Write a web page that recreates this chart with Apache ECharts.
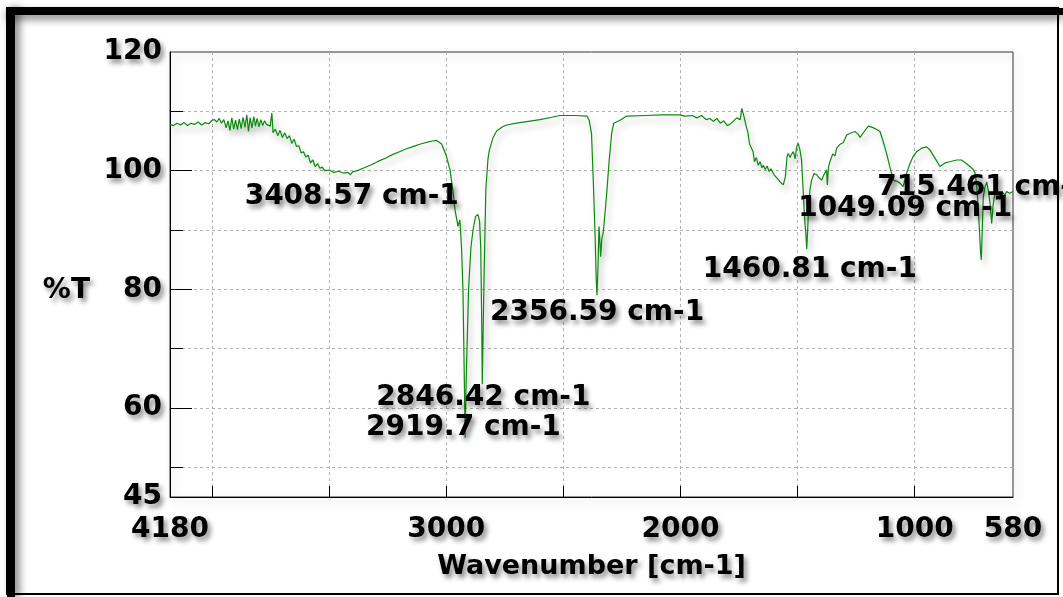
<!DOCTYPE html>
<html>
<head>
<meta charset="utf-8">
<title>IR spectrum</title>
<script src="https://cdn.jsdelivr.net/npm/echarts@6/dist/echarts.min.js"></script>
<style>
	html, body { margin: 0; padding: 0; background: #fff; }
	#chart1 { width: 1063px; height: 597px; }
</style>
</head>
<body>
<div id="chart1"></div>
<script>
//波数 (cm-1) 与透过率 %T
var wavenumber = [
	4180, 4165, 4150, 4135, 4120, 4105, 4090, 4075, 4060, 4045, 4030, 4015, 4000,
	3990, 3980, 3970, 3960, 3950, 3940, 3932, 3924, 3916, 3908, 3900, 3892, 3884, 3876, 3868, 3860,
	3852, 3845, 3838, 3830, 3822, 3815, 3808, 3800, 3792, 3784, 3776, 3768, 3760, 3752, 3745, 3740,
	3730, 3720, 3710, 3700, 3690, 3680, 3670, 3660, 3650, 3640, 3630, 3620, 3610, 3600, 3590, 3580,
	3570, 3560, 3550, 3540, 3530, 3520, 3500, 3480, 3460, 3440, 3420, 3410, 3400, 3380, 3350, 3320,
	3290, 3260, 3230, 3200, 3170, 3140, 3110, 3080, 3060, 3041, 3020, 3000, 2984, 2970, 2963, 2950,
	2942, 2935, 2929, 2922, 2919.7, 2915, 2905, 2895, 2886, 2875, 2865, 2858, 2853, 2849, 2846.42,
	2843, 2839, 2831, 2822, 2816, 2800, 2785, 2760, 2742, 2700, 2650, 2600, 2550, 2515, 2450, 2400,
	2390, 2380, 2372, 2365, 2360, 2356.59, 2352, 2348, 2344, 2341, 2336, 2330, 2322, 2315, 2305, 2294,
	2285, 2280, 2258, 2230, 2150, 2080, 2002, 1980, 1950, 1930, 1910, 1890, 1874, 1860, 1845, 1830,
	1815, 1800, 1789, 1775, 1760, 1745, 1738, 1734, 1728, 1720, 1712, 1705, 1698, 1690, 1684, 1676,
	1668, 1660, 1652, 1646, 1638, 1630, 1622, 1614, 1600, 1585, 1572, 1561, 1552, 1545, 1540, 1532,
	1525, 1518, 1510, 1504, 1497, 1490, 1483, 1476, 1470, 1464, 1460.81, 1457, 1452, 1447, 1440, 1430,
	1418, 1408, 1397, 1388, 1376, 1373, 1368, 1362, 1350, 1340, 1333, 1320, 1305, 1290, 1275, 1255,
	1243, 1233, 1215, 1198, 1180, 1160, 1148, 1135, 1120, 1105, 1091, 1075, 1063, 1049.09, 1035, 1020,
	1005, 991, 970, 949, 935, 927, 910, 892, 870, 850, 821, 800, 782, 764, 750, 742,
	735, 728, 722, 718, 715.461, 712, 707, 700, 692, 685, 678, 671, 665, 657, 648, 636,
	625, 615, 607, 595, 580
];

var transmittance = [
	107.8, 107.6, 108.0, 107.7, 108.1, 107.6, 108.0, 107.8, 108.2, 107.7, 108.1, 107.9, 108.5,
	108.6, 108.2, 108.8, 108.0, 108.6, 107.2, 108.4, 106.8, 108.9, 107.0, 108.5, 106.9, 108.7, 107.1, 109.0, 107.3,
	109.4, 106.6, 108.9, 107.2, 109.1, 107.5, 108.8, 107.4, 108.6, 107.6, 108.4, 107.8, 108.1, 107.5, 109.7, 106.4,
	107.0, 105.9, 106.8, 105.6, 106.4, 105.4, 105.9, 104.6, 105.3, 104.1, 104.2, 103.0, 103.2, 102.3, 102.6, 101.3,
	101.8, 100.7, 101.2, 100.4, 100.6, 100.0, 100.1, 99.7, 99.9, 99.6, 99.7, 99.3, 99.8, 100.0, 100.5, 101.0,
	101.6, 102.1, 102.7, 103.2, 103.7, 104.1, 104.5, 104.8, 105.0, 105.1, 104.5, 102.5, 100.1, 96.0, 93.4, 90.6,
	91.7, 87.0, 80.0, 62.0, 55.0, 65.0, 80.0, 87.0, 90.0, 92.3, 92.6, 91.5, 87.0, 75.0, 64.0,
	72.0, 82.0, 97.0, 102.0, 103.5, 105.6, 106.7, 107.4, 107.7, 108.0, 108.3, 108.6, 109.0, 109.3, 109.3, 109.2,
	108.5, 106.3, 97.9, 89.5, 82.0, 79.0, 84.0, 90.6, 88.0, 85.5, 88.5, 89.5, 93.0, 96.2, 101.5, 106.3,
	108.0, 108.3, 108.5, 109.2, 109.3, 109.4, 109.4, 109.2, 109.3, 108.9, 109.3, 108.6, 108.8, 108.3, 108.8, 108.0,
	108.4, 107.6, 107.8, 108.3, 108.9, 108.6, 110.5, 110.3, 109.0, 107.6, 106.4, 104.5, 104.8, 103.2, 101.5, 102.2,
	100.9, 101.5, 100.5, 100.9, 100.2, 100.8, 99.9, 100.3, 99.3, 98.6, 98.0, 97.6, 99.0, 102.4, 102.9, 102.2,
	102.8, 103.2, 102.0, 104.0, 104.6, 103.5, 101.8, 96.5, 92.0, 89.0, 86.8, 90.0, 94.5, 96.8, 98.4, 99.5,
	99.3, 98.8, 98.4, 99.3, 100.1, 97.6, 100.6, 101.5, 102.8, 102.5, 103.8, 104.4, 104.7, 106.0, 106.3, 106.6,
	106.2, 105.6, 106.6, 107.5, 107.3, 106.9, 106.6, 105.0, 102.9, 100.5, 98.4, 98.2, 97.9, 97.3, 99.5, 101.2,
	102.5, 103.2, 103.8, 104.0, 103.5, 103.2, 101.9, 100.7, 101.3, 101.5, 101.8, 101.8, 101.3, 100.7, 100.2, 99.6,
	97.5, 93.4, 89.0, 86.0, 85.0, 89.0, 95.6, 97.2, 98.1, 96.5, 94.5, 91.1, 94.2, 96.2, 95.7, 95.1,
	96.4, 95.8, 96.5, 96.2, 96.5
];

//标注的峰
var peakWn = [3408.57, 2919.7, 2846.42, 2356.59, 1460.81, 1049.09, 715.461];
var peakT = [99.5, 55.0, 64.0, 79.0, 86.8, 97.3, 85.0];
var peakLabels = ["3408.57 cm-1", "2919.7 cm-1", "2846.42 cm-1", "2356.59 cm-1", "1460.81 cm-1", "1049.09 cm-1", "715.461 cm-1"];

//刻度
var xLabelValues = [4180, 3000, 2000, 1000, 580];
var xTickValues = [4000, 3500, 3000, 2500, 2000, 1500, 1000];
var yLabelValues = [120, 100, 80, 60, 45];
var yMajorTicks = [100, 80, 60];
var yMinorTicks = [110, 90, 70, 50];

/**********************************************/
var chart = echarts.init(document.getElementById("chart1"));

var fontFamily = "DejaVu Sans";

var shadowText = {
	color: "#000",
	fontFamily: fontFamily,
	fontWeight: "bold",
	fontSize: 28,
	textShadowColor: "rgba(0,0,0,0.45)",
	textShadowBlur: 5,
	textShadowOffsetX: 3,
	textShadowOffsetY: 4
};

function textStyle(extra) {
	return Object.assign({}, shadowText, extra || {});
}

//不要千分位
function plainNumber(v) {
	return String(v);
}

//标签相对峰位置的偏移
var labelOffsets = [[-106, 23], [-99, -10], [-106, 13], [-107, 17], [-104, 21], [-105, 22], [-104, -72]];

var spectrum = [];
for (let i = 0; i < wavenumber.length; i++) {
	spectrum.push([wavenumber[i], transmittance[i]]);
}

var peaks = [];
for (let i = 0; i < peakWn.length; i++) {
	peaks.push({
		value: [peakWn[i], peakT[i]],
		name: peakLabels[i],
		label: { offset: labelOffsets[i] }
	});
}

var gridLine = {
	show: true,
	lineStyle: { color: "#b0b0b0", type: [3, 3], width: 1 }
};

var option = {
	animation: false,
	backgroundColor: "#fff",
	grid: {
		left: 170,
		top: 52,
		width: 843,
		height: 445,
		show: true,
		borderColor: "#333",
		borderWidth: 1,
		shadowColor: "rgba(0,0,0,0.25)",
		shadowBlur: 8,
		shadowOffsetX: 3,
		shadowOffsetY: 4
	},
	xAxis: [{
		type: "value",
		inverse: true,
		min: 580,
		max: 4180,
		position: "bottom",
		axisLine: { show: true, lineStyle: { color: "#000", width: 1 } },
		axisTick: {
			show: true,
			inside: true,
			length: 11,
			customValues: xTickValues,
			lineStyle: { color: "#000" }
		},
		axisLabel: textStyle({ customValues: xLabelValues, margin: 19, formatter: plainNumber }),
		splitLine: gridLine,
		name: "Wavenumber [cm-1]",
		nameLocation: "middle",
		nameGap: 56,
		nameTextStyle: textStyle({ fontSize: 27 })
	}],
	yAxis: [{
		type: "value",
		min: 45,
		max: 120,
		axisLine: { show: true, lineStyle: { color: "#000", width: 1 } },
		axisTick: {
			show: true,
			inside: true,
			length: 22,
			customValues: yMajorTicks,
			lineStyle: { color: "#000" }
		},
		axisLabel: textStyle({ customValues: yLabelValues, margin: 8, formatter: plainNumber }),
		splitLine: gridLine,
		name: "%T",
		nameLocation: "middle",
		nameRotate: 0,
		nameGap: 80,
		nameTextStyle: textStyle({ verticalAlign: "top", padding: [2, 0, 0, 0] })
	}, {
		type: "value",
		min: 45,
		max: 120,
		position: "left",
		axisLine: { show: false },
		axisTick: {
			show: true,
			inside: true,
			length: 13,
			customValues: yMinorTicks,
			lineStyle: { color: "#000" }
		},
		axisLabel: { show: false },
		splitLine: gridLine
	}],
	graphic: [
		{
			type: "rect",
			shape: { x: 7, y: 8, width: 1051, height: 586 },
			style: { fill: "none", stroke: "#000", lineWidth: 2 },
			silent: true
		},
		{
			type: "rect",
			shape: { x: 7, y: 8, width: 8, height: 589 },
			style: { fill: "#000", shadowColor: "rgba(0,0,0,0.55)", shadowBlur: 8, shadowOffsetX: 4 },
			silent: true
		},
		{
			type: "rect",
			shape: { x: 7, y: 8, width: 1056, height: 7 },
			style: { fill: "#000", shadowColor: "rgba(0,0,0,0.55)", shadowBlur: 8, shadowOffsetY: 4 },
			silent: true
		}
	],
	series: [
		{
			type: "line",
			data: spectrum,
			symbol: "none",
			clip: true,
			lineStyle: {
				color: "#0c8a0c",
				width: 1.2,
				shadowColor: "rgba(0,0,0,0.3)",
				shadowBlur: 6,
				shadowOffsetX: 3,
				shadowOffsetY: 5
			},
			z: 3
		},
		{
			type: "scatter",
			data: peaks,
			symbolSize: 0,
			clip: false,
			itemStyle: { opacity: 1 },
			label: Object.assign(textStyle(), {
				show: true,
				opacity: 1,
				position: "inside",
				align: "left",
				verticalAlign: "middle",
				formatter: function (p) { return p.name; }
			}),
			z: 4
		}
	]
};

chart.setOption(option);
</script>
</body>
</html>
